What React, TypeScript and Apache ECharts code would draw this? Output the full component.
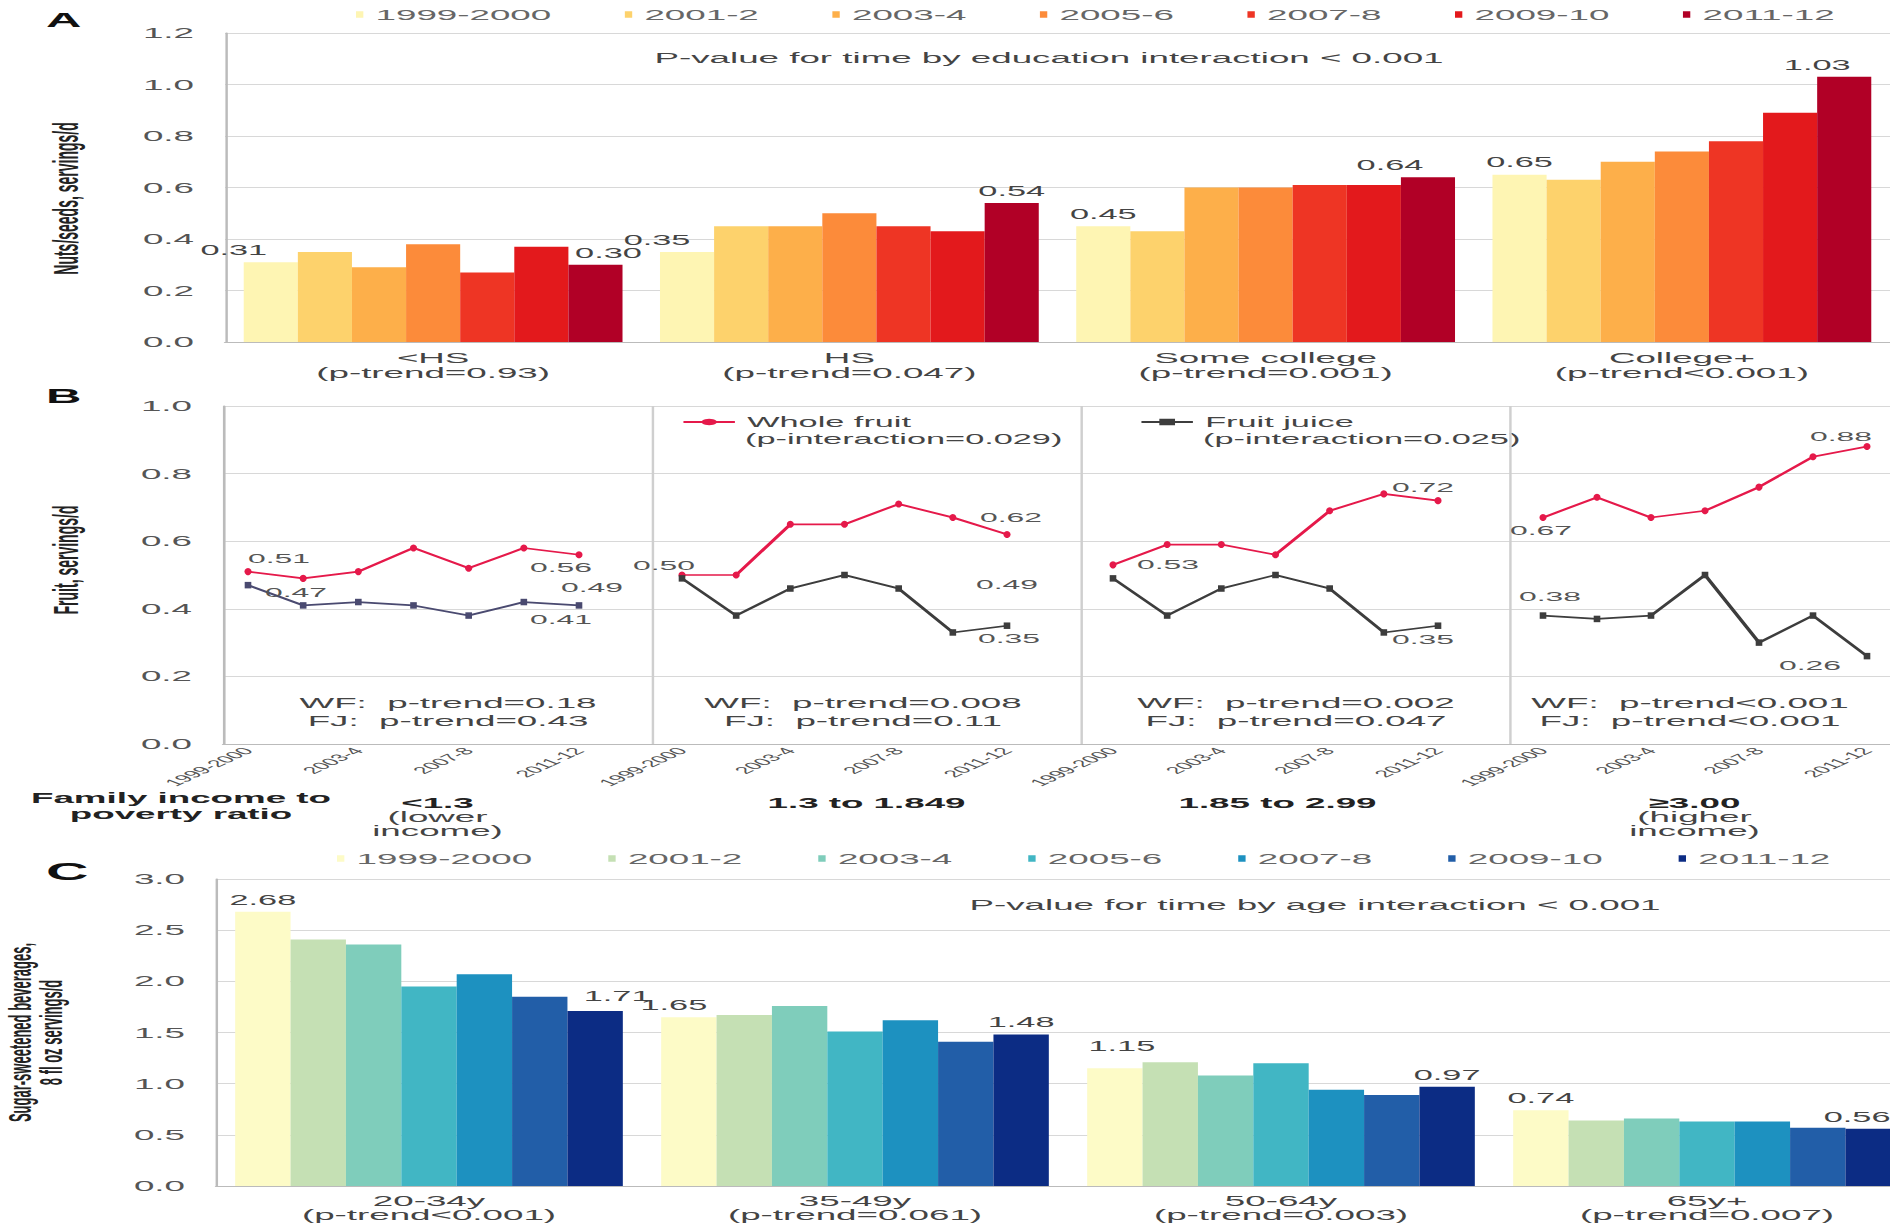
import React, { useEffect, useRef } from "react";
import * as echarts from "echarts";

// ---------- DATA ----------
const years = ["1999-2000", "2001-2", "2003-4", "2005-6", "2007-8", "2009-10", "2011-12"];

// Panel A: nuts/seeds by education (values per survey cycle)
const eduGroups = ["<HS", "HS", "Some college", "College+"];
const eduTrend = ["(p-trend=0.93)", "(p-trend=0.047)", "(p-trend=0.001)", "(p-trend<0.001)"];
const nutsLessHS = [0.31, 0.35, 0.29, 0.38, 0.27, 0.37, 0.3];
const nutsHS = [0.35, 0.45, 0.45, 0.5, 0.45, 0.43, 0.54];
const nutsSomeCollege = [0.45, 0.43, 0.6, 0.6, 0.61, 0.61, 0.64];
const nutsCollegePlus = [0.65, 0.63, 0.7, 0.74, 0.78, 0.89, 1.03];

// Panel B: fruit by income
const incomeGroups = ["<1.3", "1.3 to 1.849", "1.85 to 2.99", "≥3.00"];
const incomeNotes = ["(lower\nincome)", "", "", "(higher\nincome)"];
const wfLow = [0.51, 0.49, 0.51, 0.58, 0.52, 0.58, 0.56];
const wfLowMid = [0.5, 0.5, 0.65, 0.65, 0.71, 0.67, 0.62];
const wfHighMid = [0.53, 0.59, 0.59, 0.56, 0.69, 0.74, 0.72];
const wfHigh = [0.67, 0.73, 0.67, 0.69, 0.76, 0.85, 0.88];
const fjLow = [0.47, 0.41, 0.42, 0.41, 0.38, 0.42, 0.41];
const fjLowMid = [0.49, 0.38, 0.46, 0.5, 0.46, 0.33, 0.35];
const fjHighMid = [0.49, 0.38, 0.46, 0.5, 0.46, 0.33, 0.35];
const fjHigh = [0.38, 0.37, 0.38, 0.5, 0.3, 0.38, 0.26];
const wfTrend = ["p-trend=0.18", "p-trend=0.008", "p-trend=0.002", "p-trend<0.001"];
const fjTrend = ["p-trend=0.43", "p-trend=0.11", "p-trend=0.047", "p-trend<0.001"];

// Panel C: sugar-sweetened beverages by age
const ageGroups = ["20-34y", "35-49y", "50-64y", "65y+"];
const ageTrend = ["(p-trend<0.001)", "(p-trend=0.061)", "(p-trend=0.003)", "(p-trend=0.007)"];
const ssb2034 = [2.68, 2.41, 2.36, 1.95, 2.07, 1.85, 1.71];
const ssb3549 = [1.65, 1.67, 1.76, 1.51, 1.62, 1.41, 1.48];
const ssb5064 = [1.15, 1.21, 1.08, 1.2, 0.94, 0.89, 0.97];
const ssb65 = [0.74, 0.64, 0.66, 0.63, 0.63, 0.57, 0.56];

// ---------- STYLE / LAYOUT ----------
const S = 2.45; // horizontal stretch of the figure
const FULL_W = 1950;
const IW = FULL_W / S;
const ix = (v: number) => v / S;
const FONT = "Liberation Sans, Arial, sans-serif";

const colorsA = ["#fef5b3", "#fdd26c", "#fdaf4a", "#fc8b3a", "#ee3524", "#e3191c", "#b10026"];
const colorsC = ["#fdfbc7", "#c5e0b4", "#7fcdbb", "#41b6c4", "#1d91c0", "#225ea8", "#0c2c84"];
const WF_COLOR = "#e5194a";
const FJ_COLORS = ["#4a4a70", "#3d3d3d", "#3d3d3d", "#3d3d3d"];

// label offsets, in full-picture pixels
const labelOffA = { first: [[-37, 0], [-30, 0], [0, 0], [0, 0]], last: [[13, 0], [0, 0], [-38, 0], [-27, 0]] };
const labelOffC = { first: [[0, 0], [-15, 0], [7, -10], [0, 0]], last: [[22, -3], [0, 0], [0, 0], [-16, 0]] };
// [index, dx, dy] per group
const labelOffWF = [
  [[0, 31, -13], [6, -18, 13]],
  [[0, -18, -10], [6, 4, -17]],
  [[0, 55, 0], [6, -15, -13]],
  [[0, -2, 13], [6, -26, -10]],
];
const labelOffFJ = [
  [[0, 48, 7], [6, -18, 14]],
  [[0, -90, 9], [6, 2, 13]],
  [[0, -106, 6], [6, -15, 14]],
  [[0, 7, -19], [6, -57, 9]],
];
const bLeft = [248, 682, 1113, 1543];
const bWidth = [331, 325, 325, 324];
const incomeShift = [0, 0, 36, 60]; // right padding (full px) to nudge labels left

function buildOption() {
  const groupsA = [nutsLessHS, nutsHS, nutsSomeCollege, nutsCollegePlus];
  const groupsC = [ssb2034, ssb3549, ssb5064, ssb65];
  const wf = [wfLow, wfLowMid, wfHighMid, wfHigh];
  const fj = [fjLow, fjLowMid, fjHighMid, fjHigh];

  const axisLabelY = { formatter: (v: number) => v.toFixed(1), fontSize: 15, color: "#555", margin: ix(31) };
  const yName = { fontSize: 14, fontWeight: "bold", color: "#222", fontFamily: FONT };

  const barLabel = (off: number[]) => ({
    show: true,
    position: "top",
    offset: [ix(off[0]), off[1]],
    fontSize: 14,
    color: "#444",
    formatter: (p: any) => Number(p.value).toFixed(2),
  });

  const makeBars = (groups: number[][], colors: string[], off: any, prefix: string, axis: number) =>
    years.map((y, k) => ({
      type: "bar",
      name: prefix + y,
      xAxisIndex: axis,
      yAxisIndex: axis,
      barGap: "0%",
      barCategoryGap: "9%",
      itemStyle: { color: colors[k] },
      silent: true,
      data: groups.map((g, gi) => {
        if (k === 0) return { value: g[k], label: barLabel(off.first[gi]) };
        if (k === 6) return { value: g[k], label: barLabel(off.last[gi]) };
        return g[k];
      }),
    }));

  const lineData = (arr: number[], offs: number[][]) =>
    arr.map((v, j) => {
      const o = offs.find((q) => q[0] === j);
      if (!o) return v;
      return {
        value: v,
        label: {
          show: true,
          position: "inside",
          offset: [ix(o[1]), o[2]],
          fontSize: 13,
          color: "#555",
          formatter: (p: any) => Number(p.value).toFixed(2),
        },
      };
    });

  const lineSeries: any[] = [];
  for (let g = 0; g < 4; g++) {
    lineSeries.push({
      type: "line",
      name: "Whole fruit",
      xAxisIndex: 2 + g,
      yAxisIndex: 2 + g,
      symbol: "circle",
      symbolSize: [2.9, 7],
      color: WF_COLOR,
      lineStyle: { width: 1.7, color: WF_COLOR },
      itemStyle: { color: WF_COLOR },
      silent: true,
      data: lineData(wf[g], labelOffWF[g]),
    });
    lineSeries.push({
      type: "line",
      name: "Fruit juice",
      xAxisIndex: 2 + g,
      yAxisIndex: 2 + g,
      symbol: "rect",
      symbolSize: [2.7, 6.5],
      color: FJ_COLORS[g],
      lineStyle: { width: 1.7, color: FJ_COLORS[g] },
      itemStyle: { color: FJ_COLORS[g] },
      silent: true,
      data: lineData(fj[g], labelOffFJ[g]),
    });
  }

  const gridBase = { outerBoundsMode: "none", containLabel: false };
  const grids: any[] = [
    { ...gridBase, left: ix(225), top: 33, width: ix(1665), height: 309 },
    { ...gridBase, left: ix(223), top: 406, width: ix(1716), height: 338 },
  ];
  for (let g = 0; g < 4; g++) grids.push({ ...gridBase, left: ix(bLeft[g]), top: 406, width: ix(bWidth[g]), height: 338 });
  grids.push({ ...gridBase, left: ix(216), top: 879, width: ix(1704), height: 307 });

  const rich: any = {};
  incomeShift.forEach((p, i) => {
    rich["b" + i] = { fontWeight: "bold", fontSize: 15, lineHeight: 15, color: "#222", fontFamily: FONT, padding: [0, ix(p), 0, 0] };
    rich["r" + i] = { fontSize: 15, lineHeight: 14, color: "#444", fontFamily: FONT, padding: [0, ix(p), 0, 0] };
  });

  const xAxes: any[] = [
    {
      gridIndex: 0,
      type: "category",
      data: eduGroups,
      axisTick: { show: false },
      axisLine: { lineStyle: { color: "#bbb" } },
      axisLabel: { interval: 0, formatter: (v: string, i: number) => v + "\n" + eduTrend[i], fontSize: 15, lineHeight: 15, color: "#444", margin: 8 },
    },
    {
      gridIndex: 1,
      type: "category",
      data: incomeGroups,
      axisTick: { show: false },
      axisLine: { lineStyle: { color: "#bbb" } },
      splitLine: { show: true, lineStyle: { color: "#cfcfcf" } },
      axisLabel: {
        interval: 0,
        margin: 51,
        formatter: (v: string, i: number) => {
          let s = `{b${i}|${v}}`;
          if (incomeNotes[i]) s += "\n" + incomeNotes[i].split("\n").map((t) => `{r${i}|${t}}`).join("\n");
          return s;
        },
        rich,
      },
    },
  ];
  const yAxes: any[] = [
    {
      gridIndex: 0,
      type: "value",
      min: 0,
      max: 1.2,
      interval: 0.2,
      axisLine: { show: true, lineStyle: { color: "#bbb" } },
      axisTick: { show: false },
      splitLine: { lineStyle: { color: "#d8d8d8" } },
      axisLabel: axisLabelY,
      name: "Nuts/seeds, servings/d",
      nameLocation: "middle",
      nameRotate: 90,
      nameGap: ix(142),
      nameTextStyle: { ...yName, padding: [0, 22, 0, 0] },
    },
    {
      gridIndex: 1,
      type: "value",
      min: 0,
      max: 1,
      interval: 0.2,
      axisLine: { show: true, lineStyle: { color: "#bbb" } },
      axisTick: { show: false },
      splitLine: { lineStyle: { color: "#d8d8d8" } },
      axisLabel: axisLabelY,
      name: "Fruit, servings/d",
      nameLocation: "middle",
      nameRotate: 90,
      nameGap: ix(140),
      nameTextStyle: { ...yName, padding: [0, 0, 0, 30] },
    },
  ];
  for (let g = 0; g < 4; g++) {
    xAxes.push({
      gridIndex: 2 + g,
      type: "category",
      data: years,
      boundaryGap: false,
      axisLine: { show: false },
      axisTick: { show: false },
      splitLine: { show: false },
      axisLabel: { interval: 1, rotate: 48, fontSize: 10, color: "#555", margin: 5 },
    });
    yAxes.push({ gridIndex: 2 + g, type: "value", min: 0, max: 1, show: false });
  }
  xAxes.push({
    gridIndex: 6,
    type: "category",
    data: ageGroups,
    axisTick: { show: false },
    axisLine: { lineStyle: { color: "#bbb" } },
    axisLabel: { interval: 0, formatter: (v: string, i: number) => v + "\n" + ageTrend[i], fontSize: 15, lineHeight: 14, color: "#444", margin: 8 },
  });
  yAxes.push({
    gridIndex: 6,
    type: "value",
    min: 0,
    max: 3,
    interval: 0.5,
    axisLine: { show: true, lineStyle: { color: "#bbb" } },
    axisTick: { show: false },
    splitLine: { lineStyle: { color: "#d8d8d8" } },
    axisLabel: axisLabelY,
    name: "Sugar-sweetened beverages,\n8 fl oz servings/d",
    nameLocation: "middle",
    nameRotate: 90,
    nameGap: ix(150),
    nameTextStyle: { ...yName, fontSize: 13, lineHeight: 12.5 },
  });

  const txt = (x: number, y: number, text: string, extra: any = {}) => ({
    type: "text",
    x,
    y,
    silent: true,
    style: {
      text,
      fontSize: 15,
      fontFamily: FONT,
      fill: "#333",
      textAlign: "left",
      align: "left",
      textVerticalAlign: "middle",
      verticalAlign: "middle",
      ...extra,
    },
  });

  const centerX = [448, 863, 1296, 1690];
  const graphics: any[] = [
    txt(ix(46), 20, "A", { fontSize: 20, fontWeight: "bold", fill: "#111" }),
    txt(ix(46), 396, "B", { fontSize: 20, fontWeight: "bold", fill: "#111" }),
    txt(ix(46), 872, "C", { fontSize: 24, fontWeight: "bold", fill: "#111" }),
    txt(ix(1049), 58, "P-value for time by education interaction < 0.001", { textAlign: "center", align: "center", fill: "#444" }),
    txt(ix(1315), 905, "P-value for time by age interaction < 0.001", { textAlign: "center", align: "center", fill: "#444" }),
    txt(ix(745), 439, "(p-interaction=0.029)", { fill: "#444", fontSize: 14 }),
    txt(ix(1203), 439, "(p-interaction=0.025)", { fill: "#444", fontSize: 14 }),
    txt(ix(181), 806, "Family income to\npoverty ratio", { textAlign: "center", align: "center", fontWeight: "bold", fill: "#222", lineHeight: 16 }),
  ];
  for (let g = 0; g < 4; g++) {
    graphics.push(txt(ix(centerX[g]), 703, "WF:  " + wfTrend[g], { textAlign: "center", align: "center", fill: "#444" }));
    graphics.push(txt(ix(centerX[g]), 721, "FJ:  " + fjTrend[g], { textAlign: "center", align: "center", fill: "#444" }));
  }

  const legendBase = { padding: 0, selectedMode: false };

  return {
    animation: false,
    backgroundColor: "#fff",
    textStyle: { fontFamily: FONT },
    grid: grids,
    xAxis: xAxes,
    yAxis: yAxes,
    legend: [
      {
        ...legendBase,
        data: years,
        left: ix(356),
        top: 7,
        icon: "rect",
        itemWidth: 3,
        itemHeight: 6.5,
        itemGap: 30,
        textStyle: { fontSize: 15, color: "#666", fontFamily: FONT },
      },
      {
        ...legendBase,
        data: ["Whole fruit"],
        left: ix(681),
        top: 415,
        itemWidth: 21,
        itemHeight: 8,
        textStyle: { fontSize: 14, color: "#444", fontFamily: FONT },
      },
      {
        ...legendBase,
        data: [{ name: "Fruit juice", itemStyle: { color: "#3d3d3d" }, lineStyle: { color: "#3d3d3d" } }],
        left: ix(1139),
        top: 415,
        itemWidth: 21,
        itemHeight: 8,
        textStyle: { fontSize: 14, color: "#444", fontFamily: FONT },
      },
      {
        ...legendBase,
        data: years.map((y) => "ssb " + y),
        formatter: (n: string) => n.replace(/^ssb /, ""),
        left: ix(337),
        top: 851,
        icon: "rect",
        itemWidth: 3,
        itemHeight: 6.5,
        itemGap: 31,
        textStyle: { fontSize: 15, color: "#666", fontFamily: FONT },
      },
    ],
    graphic: graphics,
    series: [
      ...makeBars(groupsA, colorsA, labelOffA, "", 0),
      ...lineSeries,
      ...makeBars(groupsC, colorsC, labelOffC, "ssb ", 6),
    ],
  };
}

export default function App() {
  const ref = useRef<HTMLDivElement>(null);
  useEffect(() => {
    document.body.style.margin = "0";
    const chart = echarts.init(ref.current as HTMLDivElement, null, { renderer: "svg" });
    chart.setOption(buildOption() as any);
    return () => chart.dispose();
  }, []);
  return (
    <div style={{ position: "fixed", left: 0, top: 0, width: 1890, height: 1228, overflow: "hidden", background: "#fff" }}>
      <div ref={ref} style={{ width: IW, height: 1228, transform: `scaleX(${S})`, transformOrigin: "0 0" }} />
    </div>
  );
}
